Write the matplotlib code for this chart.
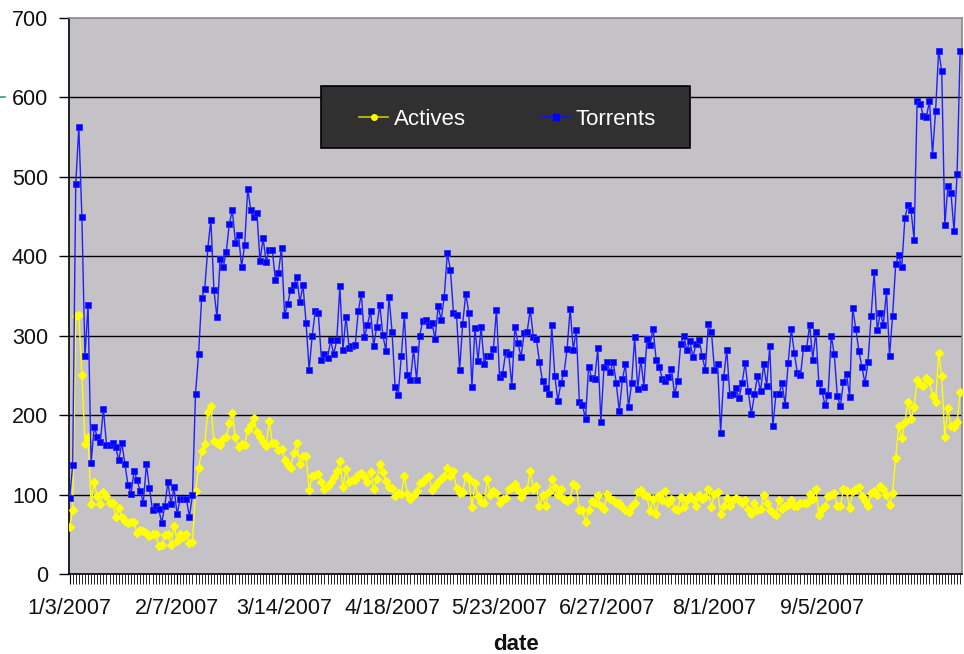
import matplotlib
matplotlib.use("Agg")
import matplotlib.pyplot as plt
import matplotlib.dates as mdates
import pandas as pd
from matplotlib.lines import Line2D
from matplotlib.patches import Rectangle

plt.rcParams['font.family'] = ['Liberation Sans', 'DejaVu Sans']

start_date = "2007-01-03"

torrents = [
    96, 137, 491, 563, 449, 274, 339, 140, 185, 173, 166, 208, 163, 163, 165, 160, 143, 165, 139, 112,
    101, 130, 118, 104, 90, 138, 108, 80, 86, 82, 64, 86, 116, 88, 109, 75, 95, 95, 95, 72,
    99, 227, 277, 348, 359, 410, 446, 357,
    323, 396, 386, 405, 441, 458, 417, 427, 387, 414, 485, 458, 449, 454, 394, 423, 393, 408, 408, 370,
    379, 411, 326, 340, 358, 364, 374, 342, 364, 316, 257, 300, 331, 328, 270, 277, 272, 294, 277, 294,
    362, 282, 324, 285, 287, 288, 331, 353,
    298, 314, 331, 287, 311, 339, 301, 281, 349, 305, 235, 225, 274, 326, 251, 244, 283, 244, 300, 319,
    320, 313, 316, 296, 337, 320, 349, 404, 383, 329, 326, 257, 315, 353, 329, 235, 310, 268, 311, 265,
    275, 274, 283, 333, 248, 252, 279, 277,
    237, 311, 291, 273, 303, 305, 333, 299, 296, 267, 243, 234, 227, 313, 249, 218, 241, 253, 283, 334,
    282, 307, 216, 213, 195, 261, 247, 246, 284, 191, 260, 267, 254, 267, 241, 205, 245, 264, 210, 240,
    298, 233, 270, 236, 296, 288, 309, 270,
    261, 246, 243, 248, 258, 226, 243, 290, 300, 282, 293, 273, 290, 295, 274, 257, 315, 305, 257, 265,
    178, 248, 282, 225, 226, 234, 221, 241, 266, 230, 201, 226, 249, 230, 264, 237, 287, 186, 226, 226,
    240, 213, 266, 309, 278, 253, 250, 285,
    284, 314, 270, 305, 240, 230, 213, 225, 300, 277, 224, 211, 242, 252, 223, 335, 309, 281, 261, 240,
    267, 325, 380, 307, 329, 314, 356, 275, 325, 390, 401, 387, 448, 465, 458, 421, 596, 592, 577, 575,
    596, 528, 583, 659, 633, 439, 488, 480, 432, 504, 659,
]

actives = [
    59, 81, 325, 326, 250, 164, 172, 88, 116, 98, 88, 103, 98, 89, 89, 72, 83, 72, 67, 64,
    66, 65, 51, 55, 54, 51, 48, 50, 50, 35, 37, 49, 50, 37, 60, 41, 50, 46, 50, 39,
    40, 104, 134, 155, 164, 204, 211, 168,
    165, 163, 170, 172, 190, 203, 172, 160, 164, 162, 181, 188, 197, 179, 172, 166, 161, 192, 165, 165,
    156, 158, 143, 137, 134, 152, 165, 138, 149, 148, 106, 123, 125, 126, 116, 107, 111, 116, 122, 130,
    142, 109, 132, 116, 118, 118, 125, 127,
    124, 116, 129, 107, 120, 138, 128, 117, 110, 108, 98, 102, 101, 123, 101, 94, 100, 105, 114, 116,
    121, 123, 106, 111, 116, 120, 123, 134, 124, 130, 108, 102, 103, 124, 120, 84, 114, 98, 91, 89,
    119, 100, 104, 102, 90, 94, 96, 107,
    109, 113, 106, 97, 103, 107, 130, 107, 111, 85, 99, 85, 103, 120, 109, 99, 107, 95, 92, 94,
    113, 111, 81, 80, 65, 81, 92, 90, 99, 85, 82, 101, 95, 93, 90, 89, 84, 80, 78, 85,
    90, 103, 106, 99, 98, 79, 94, 76,
    99, 93, 105, 89, 95, 82, 81, 97, 84, 93, 98, 95, 86, 99, 95, 97, 107, 84, 101, 103,
    76, 86, 96, 86, 93, 96, 93, 89, 93, 82, 76, 89, 81, 82, 99, 90, 81, 77, 74, 93,
    82, 86, 87, 93, 85, 86, 89, 89,
    90, 101, 95, 107, 74, 82, 85, 98, 99, 102, 85, 85, 107, 104, 83, 104, 107, 110, 98, 92,
    86, 102, 105, 99, 111, 107, 99, 87, 102, 146, 186, 171, 191, 217, 195, 210, 244, 239, 237, 247,
    243, 224, 216, 278, 249, 172, 209, 186, 185, 191, 229,
]

tick_labels = ["1/3/2007", "2/7/2007", "3/14/2007", "4/18/2007",
               "5/23/2007", "6/27/2007", "8/1/2007", "9/5/2007"]
y_ticks = [0, 100, 200, 300, 400, 500, 600, 700]

n = min(len(torrents), len(actives))
dates = pd.date_range(start_date, periods=n, freq="D")
xd = mdates.date2num(dates.to_pydatetime())
tick_pos = mdates.date2num(pd.to_datetime(tick_labels, format="%m/%d/%Y").to_pydatetime())

W, H = 964, 654
fig = plt.figure(figsize=(W / 100, H / 100), dpi=100)
fig.patch.set_facecolor("white")
L, R, T, B = 69, 962, 18, 574
ax = fig.add_axes([L / W, 1 - B / H, (R - L) / W, (B - T) / H])
ax.set_facecolor("#C4C2C6")

for yv in y_ticks[1:-1]:
    ax.axhline(yv, color="black", lw=1.0, zorder=1)

ax.plot(xd[:n], actives[:n], color="#FFFF00", lw=1.0, marker="D", ms=4.2,
        mfc="#FFFF00", mec="#FFFF00", zorder=3, label="Actives")
ax.plot(xd[:n], torrents[:n], color="#1E1EFF", lw=1.0, marker="s", ms=4.8,
        mfc="#0000FF", mec="#2828FF", mew=0.6, zorder=4, label="Torrents")

ax.set_ylim(0, 700)
ax.set_yticks(y_ticks)
ax.set_xlim(xd[0] - 0.2, xd[n - 1] + 0.6)
ax.set_xticks(tick_pos)
ax.set_xticklabels(tick_labels)
ax.xaxis.set_minor_locator(mdates.DayLocator())
ax.tick_params(axis="y", which="major", direction="out", length=7, width=1.0,
               labelsize=15.5, pad=8, colors="black")
ax.tick_params(axis="x", which="major", direction="out", length=7, width=0.8,
               labelsize=15.5, pad=10, colors="black")
ax.tick_params(axis="x", which="minor", direction="out", length=7, width=0.6, colors="black")
for lab in ax.get_xticklabels() + ax.get_yticklabels():
    lab.set_color("#111111")

ax.spines["left"].set_color("black")
ax.spines["left"].set_linewidth(1.2)
ax.spines["bottom"].set_color("black")
ax.spines["bottom"].set_linewidth(1.2)
ax.spines["top"].set_color("#8A8A8A")
ax.spines["top"].set_linewidth(1.2)
ax.spines["right"].set_color("#8A8A8A")
ax.spines["right"].set_linewidth(1.2)

fig.text((L + R) / 2 / W, 1 - 645 / H, "date", ha="center", va="center",
         fontsize=16, fontweight="bold", color="#111111")

# legend box
bx0, bx1, by0, by1 = 321, 690, 86, 148
fig.patches.append(Rectangle((bx0 / W, 1 - by1 / H), (bx1 - bx0) / W, (by1 - by0) / H,
                             transform=fig.transFigure, facecolor="#303030",
                             edgecolor="black", lw=1.2, zorder=10))
h1 = Line2D([], [], color="#C8C800", lw=1.2, marker="o", ms=4, mfc="#FFFF00", mec="#FFFF00")
h2 = Line2D([], [], color="#1010FF", lw=1.2, marker="s", ms=5, mfc="#0000FF", mec="#0000FF")
leg = fig.legend([h1, h2], ["Actives", "Torrents"], ncol=2, frameon=False,
                 loc="center", bbox_to_anchor=(507.5 / W, 1 - 119.5 / H),
                 fontsize=16, handlelength=1.3, handletextpad=0.25, columnspacing=3.4,
                 labelcolor="white")
leg.set_zorder(11)

# small green mark at left edge
fig.add_artist(Line2D([0, 5 / W], [1 - 97 / H, 1 - 97 / H], transform=fig.transFigure,
                      color="#3C9A6E", lw=1.2))

fig.savefig("out.png", dpi=100)
